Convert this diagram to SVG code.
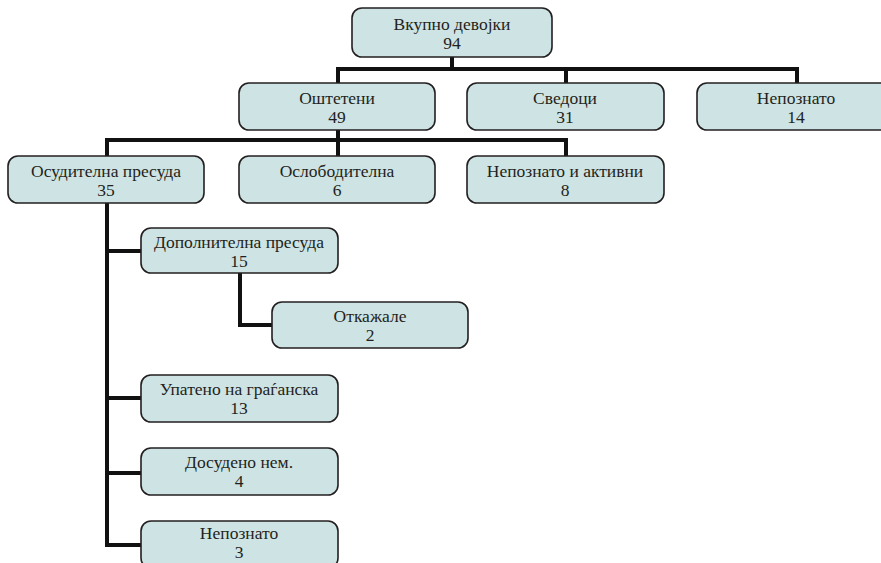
<svg xmlns="http://www.w3.org/2000/svg" width="881" height="563" viewBox="0 0 881 563">
<style>
.box{fill:#cee3e3;stroke:#231f20;stroke-width:1.6}
.t{font-family:"Liberation Serif","DejaVu Serif",serif;font-size:17.5px;fill:#231f20;text-anchor:middle}
.c{fill:none;stroke:#111;stroke-width:4;stroke-linejoin:miter}
</style>
<rect width="881" height="563" fill="#fff"/>
<g id="connectors">
<path class="c" d="M452 57V69M338 83V69H797V83M566 69V83"/>
<path class="c" d="M338 130V140M107 156V140H566V156M338 140V156"/>
<path class="c" d="M107 203V545H141M107 251H141M107 398H141M107 473H141"/>
<path class="c" d="M240 273V325H272"/>
</g>
<g id="n-root"><rect class="box" x="352" y="8" width="200" height="49" rx="10"/><text class="t" x="452" y="30">Вкупно девојки</text><text class="t" x="452" y="49">94</text></g>
<g id="n-oshteteni"><rect class="box" x="239" y="83" width="196" height="47" rx="10"/><text class="t" x="337" y="104">Оштетени</text><text class="t" x="337" y="123">49</text></g>
<g id="n-svedoci"><rect class="box" x="467" y="83" width="197" height="47" rx="10"/><text class="t" x="565" y="104">Сведоци</text><text class="t" x="565" y="123">31</text></g>
<g id="n-nepoznato14"><rect class="box" x="697" y="83" width="197" height="47" rx="10"/><text class="t" x="796" y="104">Непознато</text><text class="t" x="796" y="123">14</text></g>
<g id="n-osuditelna"><rect class="box" x="8" y="156" width="196" height="47" rx="10"/><text class="t" x="106" y="177">Осудителна пресуда</text><text class="t" x="106" y="196">35</text></g>
<g id="n-osloboditelna"><rect class="box" x="239" y="156" width="196" height="47" rx="10"/><text class="t" x="337" y="177">Ослободителна</text><text class="t" x="337" y="196">6</text></g>
<g id="n-nepoznato-aktivni"><rect class="box" x="467" y="156" width="197" height="47" rx="10"/><text class="t" x="565" y="177">Непознато и активни</text><text class="t" x="565" y="196">8</text></g>
<g id="n-dopolnitelna"><rect class="box" x="141" y="228" width="197" height="45" rx="10"/><text class="t" x="239" y="248">Дополнителна пресуда</text><text class="t" x="239" y="267">15</text></g>
<g id="n-otkazhale"><rect class="box" x="272" y="302" width="196" height="46" rx="10"/><text class="t" x="370" y="322">Откажале</text><text class="t" x="370" y="341">2</text></g>
<g id="n-upateno"><rect class="box" x="141" y="375" width="197" height="47" rx="10"/><text class="t" x="239" y="395">Упатено на граѓанска</text><text class="t" x="239" y="414">13</text></g>
<g id="n-dosudeno"><rect class="box" x="141" y="448" width="197" height="47" rx="10"/><text class="t" x="239" y="468">Досудено нем.</text><text class="t" x="239" y="487">4</text></g>
<g id="n-nepoznato3"><rect class="box" x="141" y="521" width="197" height="47" rx="10"/><text class="t" x="239" y="539">Непознато</text><text class="t" x="239" y="558">3</text></g>
</svg>
